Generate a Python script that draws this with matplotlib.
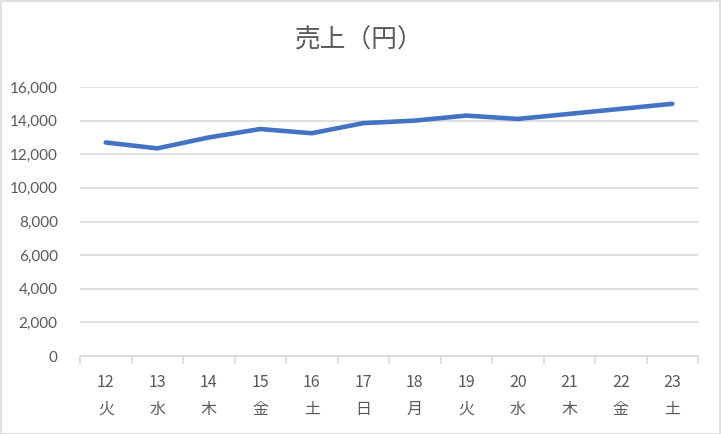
import matplotlib
matplotlib.use("Agg")
import matplotlib.pyplot as plt
from matplotlib.patches import Rectangle

days = ["12", "13", "14", "15", "16", "17", "18", "19", "20", "21", "22", "23"]
weekdays = ["火", "水", "木", "金", "土", "日", "月", "火", "水", "木", "金", "土"]
sales = [12700, 12350, 13000, 13500, 13250, 13850, 14000, 14300, 14100, 14400, 14700, 15000]
yticks = [0, 2000, 4000, 6000, 8000, 10000, 12000, 14000, 16000]
title = "売上（円）"

W, H = 721, 434
fig = plt.figure(figsize=(W / 100, H / 100), dpi=100)
ax = fig.add_axes([80 / W, 1 - 356 / H, 618 / W, 269 / H])

x = list(range(len(days)))
ax.plot(x, sales, color="#4472C4", lw=3.3, solid_capstyle="round", solid_joinstyle="round", zorder=3)

ax.set_xlim(-0.5, len(days) - 0.5)
ax.set_ylim(0, 16000)
ax.set_yticks(yticks)
ax.set_yticklabels([f"{v:,}" for v in yticks], family=["Lato", "DejaVu Sans"], fontsize=11, color="#595959")
ax.yaxis.grid(True, color="#d9d9d9", lw=1.2)
ax.set_axisbelow(True)
ax.tick_params(axis="y", length=0, pad=16)

ax.set_xticks([i - 0.5 for i in range(len(days) + 1)], minor=False)
ax.set_xticklabels([])
ax.tick_params(axis="x", which="major", length=6, color="#d9d9d9", width=1.2, direction="out")
ax.set_xticks(x, minor=True)
ax.set_xticklabels([f"{d}\n{w}" for d, w in zip(days, weekdays)], minor=True,
                   family=["Noto Sans CJK JP", "DejaVu Sans"], fontsize=11.5, color="#595959",
                   linespacing=1.75)
ax.tick_params(axis="x", which="minor", length=0, pad=13)

for s in ["top", "right", "left"]:
    ax.spines[s].set_visible(False)
ax.spines["bottom"].set_color("#d9d9d9")
ax.spines["bottom"].set_linewidth(1.2)

fig.text(0.498, 1 - 40 / H, title, ha="center", va="center", fontsize=18.5,
         family=["Noto Sans CJK JP", "DejaVu Sans"], color="#595959")

fig.patches.append(Rectangle((0.5 / W, 0.5 / H), 1 - 1.5 / W, 1 - 1.5 / H, transform=fig.transFigure,
                             fill=False, edgecolor="#d9d9d9", lw=1.2))

fig.savefig("out.png", dpi=100, facecolor="white")
